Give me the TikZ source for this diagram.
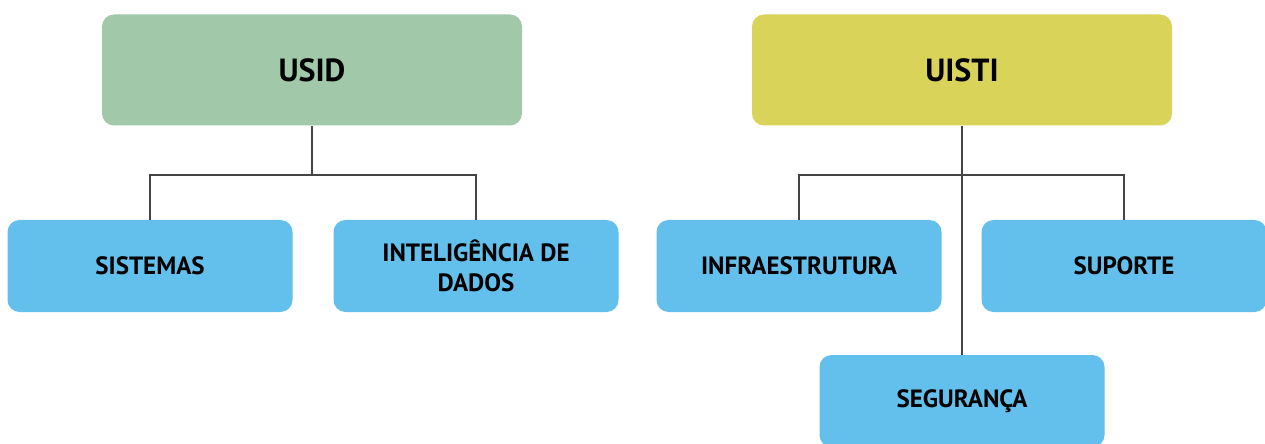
\documentclass[tikz,border=0pt]{standalone}
\usepackage{fontspec}
\setmainfont{PT Sans}
\usepackage{tikz}
\usetikzlibrary{positioning}

\definecolor{unitgreen}{HTML}{A0C8A9}
\definecolor{unityellow}{HTML}{D9D35A}
\definecolor{teamblue}{HTML}{63BFEB}
\definecolor{linkgray}{HTML}{444444}

\begin{document}
\begin{tikzpicture}[x=0.5pt, y=-0.5pt,
    unit/.style = {rounded corners=6pt, minimum width=210pt, minimum height=55.5pt,
                   font=\bfseries\fontsize{16}{19}\selectfont},
    team/.style = {rounded corners=6pt, minimum width=142.5pt, minimum height=46pt,
                   align=center, font=\bfseries\fontsize{12.5}{15}\selectfont},
    link/.style = {draw=linkgray, line width=0.75pt}]
        \useasboundingbox (0,0) rectangle (1265,444);

        \node[unit, fill=unitgreen] (usid) at (312,70) {USID};
        \node[unit, fill=unityellow] (uisti) at (962,70) {UISTI};

        \node[team, fill=teamblue] (sist) at (150,266) {SISTEMAS};
        \node[team, fill=teamblue] (intel) at (476,266) {INTELIGÊNCIA DE\\DADOS};

        \node[team, fill=teamblue] (infra) at (799,266) {INFRAESTRUTURA};
        \node[team, fill=teamblue] (sup) at (1124,266) {SUPORTE};
        \node[team, fill=teamblue] (seg) at (962,401) {SEGURANÇA};

        \coordinate (usidbus) at (312,175);
        \coordinate (uistibus) at (962,175);

        \draw[link] (usid.south) -- (usidbus);
        \draw[link] (sist.north) |- (usidbus) -| (intel.north);
        \draw[link] (uisti.south) -- (seg.north);
        \draw[link] (infra.north) |- (uistibus) -| (sup.north);
    \end{tikzpicture}
\end{document}
